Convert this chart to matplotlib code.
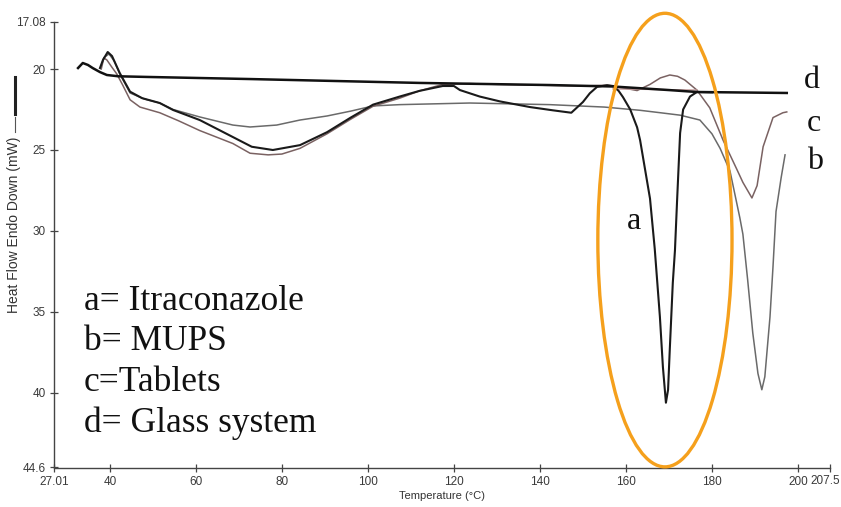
import matplotlib
matplotlib.use("Agg")
import matplotlib.pyplot as plt
from matplotlib.patches import Ellipse
from matplotlib.lines import Line2D

# ---------------- data ----------------
# d = Glass system
d_temp = [32.6, 33.7, 34.9, 36.0, 37.7, 39.3, 42.0, 48.6, 72.6, 112.1, 142.3, 157.0, 170.0, 176.5, 197.4]
d_heat = [19.94, 19.63, 19.75, 19.94, 20.19, 20.37, 20.45, 20.49, 20.62, 20.86, 20.99, 21.08, 21.3, 21.42, 21.48]

# a = Itraconazole (black)
a_temp = [37.7, 38.4, 39.5, 40.5, 42.3, 44.7, 47.5, 51.6, 54.7, 60.9, 68.6, 73.0, 77.9, 84.2,
          90.5, 96.0, 101.2, 107.4, 112.0, 117.4, 120.0, 121.4, 126.0, 130.7, 137.7, 143.0,
          147.3, 150.0, 151.6, 153.3, 155.6, 157.0, 158.3, 159.3, 161.0, 162.6, 163.3, 165.6,
          166.7, 167.9, 168.6, 169.3, 169.8, 170.2, 170.9, 171.4, 171.9, 172.6, 173.3, 174.9,
          176.5, 180.0]
a_heat = [19.94, 19.44, 18.95, 19.2, 20.25, 21.4, 21.8, 22.1, 22.53, 23.15, 24.2, 24.8, 25.0, 24.7,
          23.9, 23.0, 22.2, 21.7, 21.35, 21.05, 21.05, 21.3, 21.7, 22.0, 22.35, 22.55,
          22.7, 22.04, 21.5, 21.1, 21.0, 21.05, 21.35, 21.73, 22.5, 23.6, 24.4, 28.0,
          31.1, 35.3, 38.4, 40.6, 39.8, 37.3, 33.2, 31.2, 28.1, 23.95, 22.5, 21.7,
          21.42, 21.44]

# pink/brown curve (peak at ~189 C)
p_temp = [38.0, 38.6, 39.3, 40.5, 41.6, 43.0, 44.7, 47.0, 51.6, 56.0, 60.9, 68.6, 72.6, 76.8, 80.0,
          84.2, 90.5, 96.0, 101.2, 107.4, 112.0, 117.4, 123.7, 130.0, 140.0, 150.0, 155.6, 157.0,
          160.0, 162.6, 165.6, 168.0, 170.2, 172.0, 173.7, 176.5, 179.5, 182.6, 185.8, 187.2,
          189.3, 190.5, 191.9, 194.2, 196.5, 197.4]
p_heat = [20.0, 19.32, 19.44, 19.9, 20.3, 21.0, 21.9, 22.35, 22.7, 23.2, 23.8, 24.6, 25.2, 25.3, 25.25,
          24.9, 24.0, 23.1, 22.3, 21.8, 21.35, 20.95, 20.9, 20.95, 21.0, 21.05, 21.0, 21.05,
          21.2, 21.33, 20.95, 20.55, 20.37, 20.45, 20.68, 21.3, 22.4, 24.4, 26.2, 27.0,
          27.96, 27.2, 24.8, 23.0, 22.7, 22.65]

# gray curve (peak at ~192 C)
g_temp = [38.0, 38.6, 39.8, 41.0, 42.3, 44.7, 48.0, 51.6, 54.7, 60.9, 68.6, 72.6, 78.8, 84.2,
          90.5, 96.0, 101.2, 107.4, 123.7, 142.3, 155.0, 163.3, 168.0, 172.6, 177.2, 180.0,
          181.9, 184.2, 186.5, 187.2, 188.3, 189.5, 190.7, 191.6, 192.3, 193.5, 194.2, 194.9,
          196.1, 197.0]
g_heat = [19.8, 19.3, 19.07, 19.5, 20.3, 21.48, 21.85, 22.1, 22.5, 22.96, 23.46, 23.58, 23.46, 23.15,
          22.9, 22.6, 22.28, 22.2, 22.1, 22.2, 22.35, 22.55, 22.7, 22.85, 23.15, 24.0,
          24.9, 26.3, 29.2, 30.2, 33.0, 36.3, 38.8, 39.8, 39.0, 35.3, 32.2, 28.8,
          26.7, 25.3]

# straight pink baseline segment
base_temp = [157.0, 176.5]
base_heat = [21.23, 21.3]

x_ticks = [27.01, 40, 60, 80, 100, 120, 140, 160, 180, 200, 207.5]
x_tick_labels = ["27.01", "40", "60", "80", "100", "120", "140", "160", "180", "200", ""]
x_last_label = "207.5"
y_ticks = [17.08, 20, 25, 30, 35, 40, 44.6]
y_tick_labels = ["17.08", "20", "25", "30", "35", "40", "44.6"]

legend_lines = ["a= Itraconazole", "b= MUPS", "c=Tablets", "d= Glass system"]

# ---------------- figure ----------------
W, H = 841, 507
fig = plt.figure(figsize=(W / 100, H / 100), dpi=100)
ax = fig.add_axes([54 / W, 1 - 467.5 / H, (830.2 - 54) / W, (467.5 - 21.7) / H])

ax.plot(g_temp, g_heat, color="#6a6a6a", lw=1.1, zorder=2)
ax.plot(p_temp, p_heat, color="#7a6262", lw=1.1, zorder=2)
ax.plot(base_temp, base_heat, color="#c09a9a", lw=1.0, zorder=2)
ax.plot(a_temp, a_heat, color="#1a1a1a", lw=1.5, zorder=3)
ax.plot(d_temp, d_heat, color="#111111", lw=1.8, zorder=4)

ax.set_xlim(27.01, 207.5)
ax.set_ylim(44.6, 17.08)

ax.set_xticks(x_ticks)
ax.set_xticklabels(x_tick_labels)
ax.set_yticks(y_ticks)
ax.set_yticklabels(y_tick_labels)
ax.tick_params(direction="inout", length=6, width=0.9, color="#444444",
               labelsize=8.5, labelcolor="#3a3a3a", pad=3)
for lab in ax.get_xticklabels() + ax.get_yticklabels():
    lab.set_fontfamily("Liberation Sans")

# last x tick label, nudged left so it stays inside the canvas
ax.annotate(x_last_label, xy=(x_ticks[-1], 0), xycoords=("data", "axes fraction"),
            xytext=(-3.5, -5.2), textcoords="offset points", ha="center", va="top",
            fontsize=8.5, family="Liberation Sans", color="#3a3a3a")

for s in ["top", "right"]:
    ax.spines[s].set_visible(False)
for s in ["left", "bottom"]:
    ax.spines[s].set_color("#444444")
    ax.spines[s].set_linewidth(1.0)

# orange ellipse highlighting the itraconazole melt
ell = Ellipse((169.07, 30.56), 31.2, 28.0, fill=False, edgecolor="#F5A01C",
              lw=2.4, clip_on=False, zorder=5)
ax.add_patch(ell)

# curve letters
serif = "Liberation Serif"
ax.text(161.9, 29.9, "a", fontsize=23, family=serif, ha="center", va="baseline", color="#111")

def fig_txt(px, py, s, **kw):
    fig.text(px / W, 1 - py / H, s, **kw)

fig_txt(804, 88, "d", fontsize=23, family=serif, ha="left", va="baseline", color="#111")
fig_txt(807, 131, "c", fontsize=23, family=serif, ha="left", va="baseline", color="#111")
fig_txt(807, 169, "b", fontsize=23, family=serif, ha="left", va="baseline", color="#111")

# key text
for i, s in enumerate(legend_lines):
    fig_txt(84, 310 + i * 40.5, s, fontsize=25.5, family=serif, ha="left", va="baseline", color="#111")

# axis labels
fig_txt(442, 496, "Temperature (\u00b0C)", fontsize=8, family="Liberation Sans",
        ha="center", va="center", color="#333")
fig_txt(14, 225, "Heat Flow Endo Down (mW)", fontsize=10, family="Liberation Sans",
        ha="center", va="center", rotation=90, color="#333")
fig.add_artist(Line2D([15 / W, 15 / W], [1 - 117 / H, 1 - 132 / H], color="#555", lw=0.8))
fig.add_artist(Line2D([15 / W, 15 / W], [1 - 77 / H, 1 - 114 / H], color="#222", lw=2.2))

fig.savefig("out.png", dpi=100)
